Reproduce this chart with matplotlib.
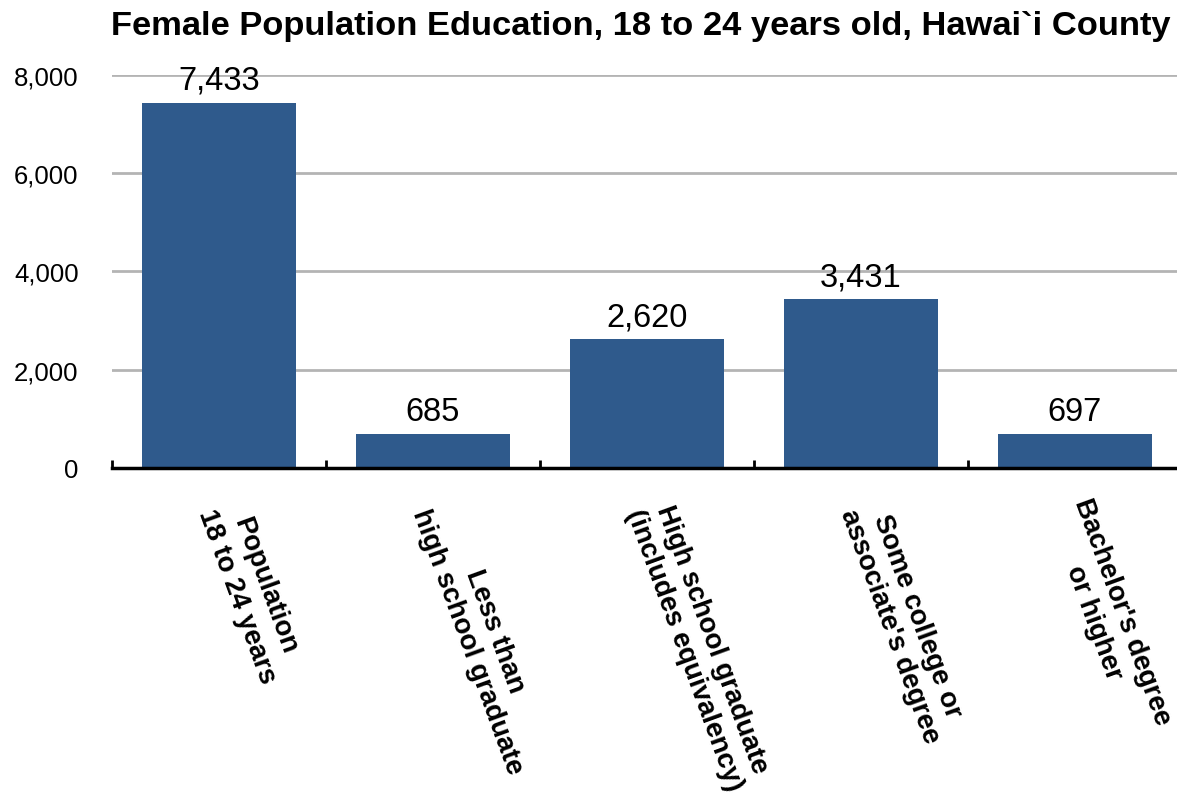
import matplotlib.pyplot as plt
import matplotlib.transforms as mtransforms
import numpy as np

plt.rcParams['font.family'] = ['Liberation Sans', 'DejaVu Sans']

categories = [
    "Population\n18 to 24 years",
    "Less than\nhigh school graduate",
    "High school graduate\n(includes equivalency)",
    "Some college or\nassociate's degree",
    "Bachelor's degree\nor higher",
]
values = [7433, 685, 2620, 3431, 697]
y_ticks = [0, 2000, 4000, 6000, 8000]
title = "Female Population Education, 18 to 24 years old, Hawai`i County"

bar_color = "#2f5a8c"

fig = plt.figure(figsize=(11.77, 8.04), dpi=100)
ax = fig.add_axes([0.0952, 0.4167, 0.909, 0.4888])

x = np.arange(len(values))
bars = ax.bar(x, values, width=0.72, color=bar_color, zorder=3)

for rect, v in zip(bars, values):
    ax.annotate(f"{v:,}", (rect.get_x() + rect.get_width() / 2, v),
                xytext=(0, 5), textcoords="offset points",
                ha="center", va="bottom", fontsize=23.5, color="black", zorder=4)

ax.set_xlim(-0.5, len(values) - 0.5)
ax.set_ylim(0, 8000)
ax.set_yticks(y_ticks)
ax.set_yticklabels([f"{t:,}" for t in y_ticks])
ax.yaxis.grid(True, color="#b4b4b4", linewidth=2, zorder=0)
ax.tick_params(axis="y", length=0, pad=24, labelsize=18.5)

# category labels on major ticks, small inward ticks at the category boundaries
ax.set_xticks(x)
ax.set_xticklabels(categories, rotation=-70, rotation_mode="anchor",
                   ha="left", va="center", multialignment="center",
                   fontsize=20, fontweight="bold")
ax.tick_params(axis="x", which="major", length=0, pad=26)
ax.set_xticks(np.arange(len(values)) - 0.5, minor=True)
ax.tick_params(axis="x", which="minor", direction="in", length=6, width=2,
               color="black")

# nudge the last label left so it stays inside the figure
last = ax.get_xticklabels()[-1]
last.set_transform(last.get_transform()
                   + mtransforms.ScaledTranslation(-8 / 100, 0, fig.dpi_scale_trans))

for side in ["top", "right", "left"]:
    ax.spines[side].set_visible(False)
ax.spines["bottom"].set_linewidth(2.5)
ax.spines["bottom"].set_zorder(5)

fig.text(641 / 1177, 1 - 27 / 804, title, ha="center", va="center",
         fontsize=24.8, fontweight="bold")

fig.savefig("out.png", dpi=100)
